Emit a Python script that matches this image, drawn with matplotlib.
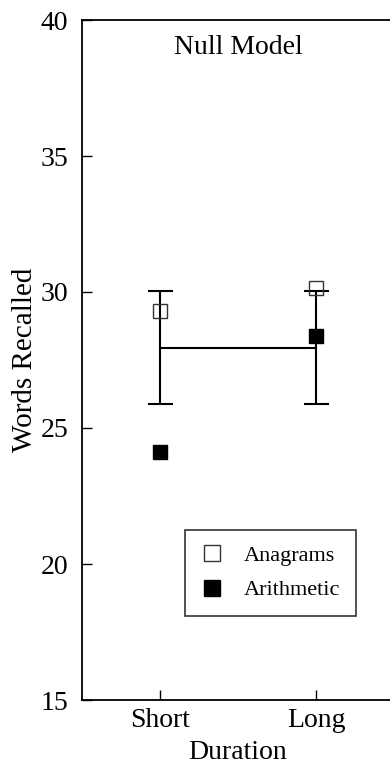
import matplotlib
matplotlib.use("Agg")
import matplotlib.pyplot as plt

categories = ["Short", "Long"]
null_mean = [27.95, 27.95]
null_upper = [30.05, 30.05]
null_lower = [25.9, 25.9]
anagrams = [29.3, 30.15]
arithmetic = [24.1, 28.4]

plt.rcParams['font.family'] = ['Liberation Serif', 'DejaVu Serif']

fig = plt.figure(figsize=(3.9, 7.67), dpi=100)
W, H = 390, 767
left, right, top, bottom = 82, 394, 20, 700
ax = fig.add_axes([left / W, 1 - bottom / H, (right - left) / W, (bottom - top) / H])

x = list(range(len(categories)))
yerr = [[m - l for m, l in zip(null_mean, null_lower)],
        [u - m for m, u in zip(null_mean, null_upper)]]
ax.errorbar(x, null_mean, yerr=yerr, color='black', lw=1.5, capsize=9,
            capthick=1.5, zorder=2)
ax.plot(x, anagrams, linestyle='none', marker='s', markersize=10,
        markerfacecolor='none', markeredgecolor='#333333', markeredgewidth=1.0,
        label='Anagrams', zorder=3)
ax.plot(x, arithmetic, linestyle='none', marker='s', markersize=10,
        markerfacecolor='black', markeredgecolor='black',
        label='Arithmetic', zorder=3)

ax.set_xlim(-0.5, 1.5)
ax.set_ylim(15, 40)
ax.set_xticks(x)
ax.set_xticklabels(categories)
ax.set_yticks([15, 20, 25, 30, 35, 40])
ax.tick_params(direction='in', length=7, width=1, labelsize=20, pad=10)
ax.tick_params(axis='x', pad=6)
ax.set_xlabel('Duration', fontsize=20, labelpad=5)
ax.set_ylabel('Words Recalled', fontsize=21, labelpad=2)
for s in ax.spines.values():
    s.set_linewidth(1.3)
ax.spines['right'].set_visible(False)

ax.text(0.5, 0.960, 'Null Model', transform=ax.transAxes, ha='center',
        va='center', fontsize=20)

leg = ax.legend(loc='upper left',
                bbox_to_anchor=((185 - left) / (right - left), 1 - (530 - top) / (bottom - top)),
                frameon=True, fancybox=False, fontsize=16, handletextpad=0.95,
                borderpad=0.7, labelspacing=0.62, handlelength=1.0,
                markerscale=1.15, borderaxespad=0)
leg.get_frame().set_edgecolor('black')
leg.get_frame().set_linewidth(1.2)

fig.savefig('out.png', dpi=100)
